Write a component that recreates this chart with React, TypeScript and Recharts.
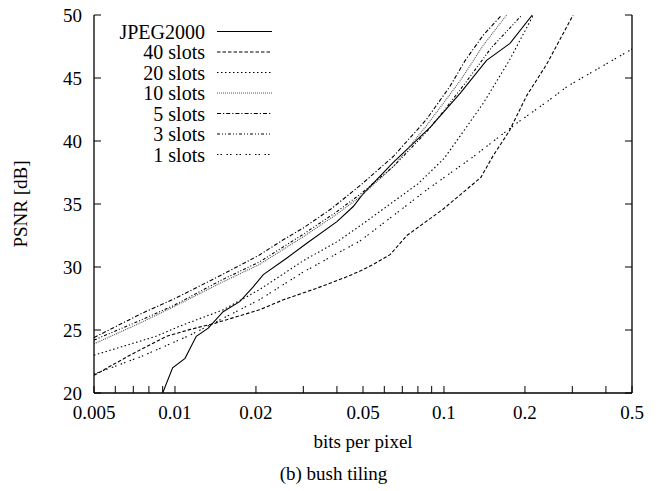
import { LineChart, Line, XAxis, YAxis, Legend, Label } from 'recharts';

// bits per pixel ticks (log axis); only some of them get a label
const bppTicks = [0.005, 0.006, 0.007, 0.008, 0.009, 0.01, 0.02, 0.03, 0.04, 0.05, 0.06, 0.07, 0.08, 0.09, 0.1, 0.2, 0.3, 0.4, 0.5];
const bppLabels = [0.005, 0.01, 0.02, 0.05, 0.1, 0.2, 0.5];
const psnrTicks = [20, 25, 30, 35, 40, 45, 50];

// [bpp, psnr]
const jpeg2000 = [
  [0.009, 20], [0.0098, 22], [0.0109, 22.75], [0.012, 24.5], [0.0133, 25.15], [0.0151, 26.45],
  [0.0174, 27.25], [0.0195, 28.4], [0.0213, 29.4], [0.026, 30.7], [0.031, 31.9], [0.04, 33.6],
  [0.046, 34.8], [0.05, 35.8], [0.056, 36.9], [0.0648, 38.3], [0.075, 39.6], [0.089, 41.1],
  [0.115, 43.8], [0.144, 46.4], [0.176, 47.75], [0.213, 50],
];
const slots40 = [
  [0.005, 21.4], [0.0068, 23.0], [0.0093, 24.5], [0.0114, 25.05], [0.0139, 25.5], [0.0206, 26.6],
  [0.0253, 27.4], [0.0335, 28.3], [0.0433, 29.2], [0.049, 29.7], [0.0545, 30.2], [0.0632, 31.0],
  [0.0728, 32.5], [0.0994, 34.6], [0.137, 37.1], [0.152, 38.8], [0.175, 40.8], [0.203, 43.6],
  [0.241, 46.1], [0.302, 50],
];
const slots20 = [
  [0.005, 23.0], [0.0085, 24.5], [0.0104, 25.3], [0.0151, 26.6], [0.0206, 28.2], [0.03, 30.5],
  [0.04, 32.0], [0.049, 33.3], [0.065, 35.2], [0.08, 36.6], [0.1, 38.6], [0.124, 41.4],
  [0.14, 43.0], [0.175, 46.4], [0.215, 50],
];
const slots10 = [
  [0.005, 23.9], [0.0075, 25.6], [0.01, 26.9], [0.015, 28.8], [0.0206, 30.2], [0.03, 32.4],
  [0.04, 34.2], [0.049, 35.6], [0.065, 38.0], [0.086, 41.2], [0.115, 44.8], [0.14, 47.6], [0.171, 50],
];
const slots5 = [
  [0.005, 24.4], [0.0075, 26.3], [0.01, 27.5], [0.015, 29.4], [0.0206, 30.95], [0.025, 32.1],
  [0.03, 33.1], [0.038, 34.6], [0.049, 36.5], [0.065, 38.8], [0.086, 41.7], [0.105, 44.3],
  [0.12, 46.4], [0.14, 48.4], [0.164, 50],
];
const slots3 = [
  [0.005, 24.2], [0.0075, 25.8], [0.01, 27.0], [0.015, 29.0], [0.0206, 30.4], [0.03, 32.6],
  [0.04, 34.4], [0.049, 35.8], [0.065, 38.0], [0.086, 40.7], [0.1, 42.4], [0.12, 44.6],
  [0.15, 47.4], [0.195, 50],
];
const slots1 = [
  [0.005, 21.5], [0.0075, 22.9], [0.0114, 24.6], [0.0206, 27.4], [0.03, 29.6], [0.049, 32.1],
  [0.065, 34.1], [0.086, 36.1], [0.1285, 38.75], [0.186, 41.4], [0.241, 43.1], [0.286, 44.3], [0.5, 47.3],
];

const FONT = '"Liberation Serif", "DejaVu Serif", serif';

const series = [
  { name: 'JPEG2000', points: jpeg2000, dash: undefined, color: '#000' },
  { name: '40 slots', points: slots40, dash: '3.5 2', color: '#000' },
  { name: '20 slots', points: slots20, dash: '1.5 2.5', color: '#000' },
  { name: '10 slots', points: slots10, dash: '1 1', color: '#555' },
  { name: '5 slots', points: slots5, dash: '4 2 1.2 2', color: '#000' },
  { name: '3 slots', points: slots3, dash: '3 2 1 2 1 2', color: '#000' },
  { name: '1 slots', points: slots1, dash: '1.5 2 1.5 4.5', color: '#000' },
];

const toRows = (pts: number[][]) => pts.map(([bpp, psnr]) => ({ bpp, psnr }));

const fmtBpp = (v: number) => (bppLabels.includes(v) ? String(v) : '');

const renderLegend = () => (
  <svg width={290} height={170}>
    {series.map((s, i) => {
      const y = 31.5 + i * 20.5;
      return (
        <g key={s.name}>
          <text x={205} y={y} textAnchor="end" dominantBaseline="central" fontSize={20} fontFamily={FONT} fill="#000">
            {s.name}
          </text>
          <line x1={217} x2={272} y1={y} y2={y} stroke={s.color} strokeWidth={1.2} strokeDasharray={s.dash} />
        </g>
      );
    })}
  </svg>
);

const renderYTitle = (props: any) => {
  const { viewBox } = props;
  const x = viewBox.x + 20;
  const y = viewBox.y + viewBox.height / 2;
  return (
    <text x={x} y={y} transform={`rotate(-90 ${x} ${y})`} textAnchor="middle" dominantBaseline="central" fontSize={19} fontFamily={FONT} fill="#000">
      PSNR [dB]
    </text>
  );
};

const renderXTitle = (props: any) => {
  const { viewBox } = props;
  return (
    <text x={viewBox.x + viewBox.width / 2} y={viewBox.y + 48} textAnchor="middle" dominantBaseline="central" fontSize={19} fontFamily={FONT} fill="#000">
      bits per pixel
    </text>
  );
};

const tickStyle = { fontSize: 19, fill: '#000', fontFamily: FONT };

export default function App() {
  return (
    <div style={{ position: 'absolute', left: 0, top: 0, width: 667, height: 491, background: '#fff', fontFamily: FONT }}>
      <LineChart width={667} height={491} margin={{ top: 15, right: 0, bottom: 0, left: 0 }}>
        <XAxis
          xAxisId="bottom"
          dataKey="bpp"
          type="number"
          scale="log"
          domain={[0.005, 0.5]}
          allowDataOverflow
          ticks={bppTicks}
          interval={0}
          tickFormatter={fmtBpp}
          tickSize={-7}
          tickMargin={20}
          height={98}
          tick={tickStyle}
          stroke="#000"
          axisLine={{ stroke: '#000', strokeWidth: 1.3 }}
          tickLine={{ stroke: '#000' }}
        >
          <Label content={renderXTitle} />
        </XAxis>
        <XAxis
          xAxisId="top"
          orientation="top"
          dataKey="bpp"
          type="number"
          scale="log"
          domain={[0.005, 0.5]}
          allowDataOverflow
          ticks={bppTicks}
          interval={0}
          tickFormatter={() => ''}
          tickSize={-7}
          height={0}
          axisLine={{ stroke: '#000', strokeWidth: 1.3 }}
          tickLine={{ stroke: '#000' }}
        />
        <YAxis
          yAxisId="left"
          type="number"
          domain={[20, 50]}
          allowDataOverflow
          ticks={psnrTicks}
          interval={0}
          tickSize={-7}
          tickMargin={19}
          width={94}
          tick={tickStyle}
          axisLine={{ stroke: '#000', strokeWidth: 1.3 }}
          tickLine={{ stroke: '#000' }}
        >
          <Label content={renderYTitle} />
        </YAxis>
        <YAxis
          yAxisId="right"
          orientation="right"
          type="number"
          domain={[20, 50]}
          allowDataOverflow
          ticks={psnrTicks}
          interval={0}
          tickFormatter={() => ''}
          tickSize={-7}
          width={35}
          axisLine={{ stroke: '#000', strokeWidth: 1.3 }}
          tickLine={{ stroke: '#000' }}
        />
        <Legend
          content={renderLegend}
          layout="horizontal"
          verticalAlign="middle"
          align="center"
          wrapperStyle={{ position: 'absolute', left: 0, top: 0, width: 290, height: 170 }}
        />
        {series.map((s) => (
          <Line
            key={s.name}
            name={s.name}
            data={toRows(s.points)}
            dataKey="psnr"
            xAxisId="bottom"
            yAxisId="left"
            type="linear"
            stroke={s.color}
            strokeWidth={1.1}
            strokeDasharray={s.dash}
            dot={false}
            activeDot={false}
            isAnimationActive={false}
          />
        ))}
      </LineChart>
      <div style={{ position: 'absolute', left: 0, top: 463, width: 667, textAlign: 'center', fontSize: 19, fontFamily: FONT, color: '#000' }}>
        (b) bush tiling
      </div>
    </div>
  );
}
